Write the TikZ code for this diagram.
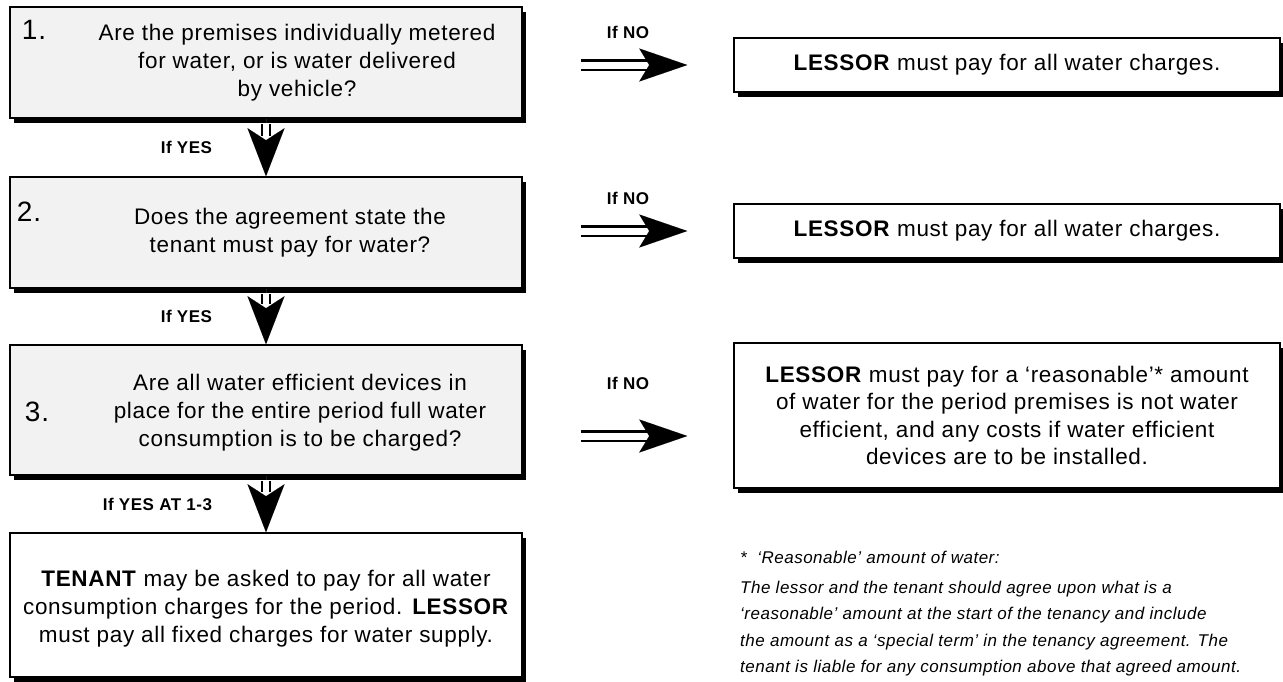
\documentclass[tikz,border=0pt]{standalone}
\usepackage{fontspec}
\setmainfont{Liberation Sans}[LetterSpace=3]
\usetikzlibrary{arrows.meta,shadows}

\begin{document}
\begin{tikzpicture}[x=1pt,y=-1pt,
    qbox/.style={draw, line width=1.5pt, fill=black!5,
      drop shadow={shadow xshift=4pt, shadow yshift=-5pt, opacity=1, fill=black},
      minimum width=512pt, inner sep=0pt},
    rbox/.style={draw, line width=1.5pt, fill=white,
      drop shadow={shadow xshift=4pt, shadow yshift=-5pt, opacity=1, fill=black},
      minimum width=546pt, align=center, font=\fontsize{22.5}{27.5}\selectfont},
    qtext/.style={align=center, inner sep=0pt, font=\fontsize{22.5}{28}\selectfont},
    qnum/.style={inner sep=0pt, font=\fontsize{28}{28}\selectfont},
    yesshaft/.style={double, double distance=6pt, line width=2.2pt, shorten <=5pt, shorten >=40pt},
    yeshead/.style={white, line width=0.01pt, -{Stealth[black, length=48pt, width=37pt, inset=12pt]}},
    noshaft/.style={double, double distance=7pt, line width=2.5pt, shorten <=58pt, shorten >=82pt},
    nohead/.style={white, line width=0.01pt, shorten <=100pt, shorten >=46pt,
      -{Stealth[black, length=48pt, width=33pt, inset=10pt]}},
    yeslabel/.style={black, left=54pt, inner sep=0pt, font=\fontsize{17}{17}\selectfont\bfseries},
    nolabel/.style={black, above=26pt, inner sep=0pt, font=\fontsize{17}{17}\selectfont\bfseries}]
    \useasboundingbox (0,0) rectangle (1283,681);
% question boxes
    \node[qbox, minimum height=111pt] (q1) at (266,62.5) {};
    \node[qbox, minimum height=111pt] (q2) at (266,232.5) {};
    \node[qbox, minimum height=130pt] (q3) at (266,410) {};
    \node[qbox, fill=white, minimum height=144pt] (q4) at (266,605) {};
    \node[qnum] (n1) at (34,30) {1.};
    \node[qnum] (n2) at (29,212) {2.};
    \node[qnum] (n3) at (37,412) {3.};
    \node[qtext] (t1) at (297,62.5) {Are the premises individually metered\\ for water, or is water delivered\\ by vehicle?};
    \node[qtext] (t2) at (290,232.5) {Does the agreement state the\\ tenant must pay for water?};
    \node[qtext] (t3) at (300,413) {Are all water efficient devices in\\ place for the entire period full water\\ consumption is to be charged?};
    \node[qtext] (t4) at (266,609) {\textbf{TENANT} may be asked to pay for all water\\ consumption charges for the period. \textbf{LESSOR}\\ must pay all fixed charges for water supply.};
% answer boxes
    \node[rbox, minimum height=54pt] (r1) at (1007,65) {\textbf{LESSOR} must pay for all water charges.};
    \node[rbox, minimum height=54pt] (r2) at (1007,231) {\textbf{LESSOR} must pay for all water charges.};
    \node[rbox, minimum height=145pt] (r3) at (1007,415.5) {\textbf{LESSOR} must pay for a ‘reasonable’* amount\\ of water for the period premises is not water\\ efficient, and any costs if water efficient\\ devices are to be installed.};
% note
    \node[anchor=north west, align=left, inner sep=0pt,
      font=\fontsize{17}{26.5}\selectfont\itshape] (note) at (740,551)
      {*\ \ ‘Reasonable’ amount of water:\\[3pt]
       The lessor and the tenant should agree upon what is a\\
       ‘reasonable’ amount at the start of the tenancy and include\\
       the amount as a ‘special term’ in the tenancy agreement. The\\
       tenant is liable for any consumption above that agreed amount.};
% if yes arrows
    \draw[yesshaft] (q1.south) -- (q2.north);
    \draw[yeshead] (q1.south) -- (q2.north) node[midway, yeslabel] {If YES};
    \draw[yesshaft] (q2.south) -- (q3.north);
    \draw[yeshead] (q2.south) -- (q3.north) node[midway, yeslabel] {If YES};
    \draw[yesshaft] (q3.south) -- (q4.north);
    \draw[yeshead] (q3.south) -- (q4.north) node[midway, yeslabel] {If YES AT 1-3};
% if no arrows
    \draw[noshaft] (q1.east |- r1.west) -- (r1.west);
    \draw[nohead] (q1.east |- r1.west) -- (r1.west) node[midway, nolabel] {If NO};
    \draw[noshaft] (q2.east |- r2.west) -- (r2.west);
    \draw[nohead] (q2.east |- r2.west) -- (r2.west) node[midway, nolabel] {If NO};
    \draw[noshaft] ([yshift=-26pt]q3.east) -- ([yshift=-26pt]q3.east -| r3.west);
    \draw[nohead] ([yshift=-26pt]q3.east) -- ([yshift=-26pt]q3.east -| r3.west) node[midway, nolabel, above=20pt] {If NO};
\end{tikzpicture}
\end{document}
